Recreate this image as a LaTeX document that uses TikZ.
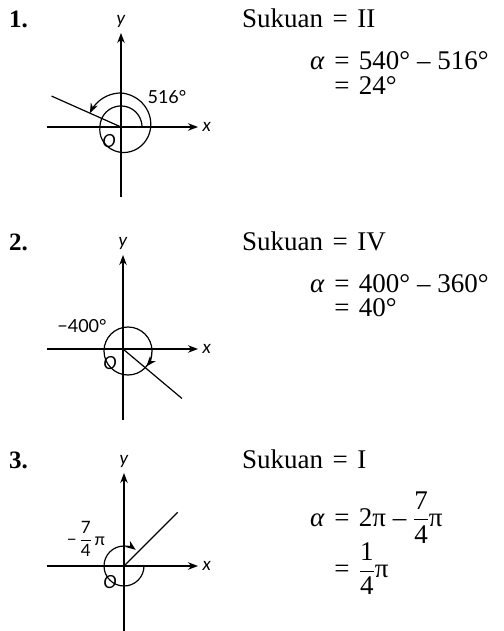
\documentclass[tikz,border=0pt]{standalone}
\usepackage{amsmath}
\usepackage{fontspec}
\setmainfont{Liberation Serif}
\newfontfamily\lblfont{Lato}
\usetikzlibrary{arrows.meta,calc}

\newcommand{\eqsp}{\hspace{0.35em}=\hspace{0.35em}}

\tikzset{
  axis/.style={line width=1.2pt, ->},
  arm/.style={line width=1.2pt},
  turn/.style={line width=1.2pt, ->},
  lbl/.style={font=\lblfont\fontsize{18}{20}\selectfont, inner sep=0pt},
  axlbl/.style={font=\lblfont\itshape\fontsize{18}{20}\selectfont, inner sep=0pt},
  num/.style={font=\bfseries\fontsize{25}{25}\selectfont, anchor=base west, inner sep=0pt},
  txt/.style={font=\fontsize{27}{22}\selectfont, anchor=base west, inner sep=0pt}
}

\begin{document}
\begin{tikzpicture}[x=1pt, y=1pt, >={Stealth[length=10pt,width=7.5pt]}]
\useasboundingbox (0,0) rectangle (503,-631);

% ---- 1. ----
\coordinate (O1) at (121,-127);
\coordinate (X1a) at ($(O1)+(-74,0)$);
\coordinate (X1b) at ($(O1)+(77,0)$);
\coordinate (Y1a) at ($(O1)+(0,-70)$);
\coordinate (Y1b) at ($(O1)+(0,94)$);
\coordinate (T1) at ($(O1)+(156:76)$);
\draw[axis] (X1a) -- (X1b) node[axlbl, anchor=west, xshift=4pt] (x1) {x};
\draw[axis] (Y1a) -- (Y1b) node[axlbl, anchor=south, yshift=5pt] (y1) {y};
\draw[arm] (O1) -- (T1);
\begin{scope}[shift={(O1)}]
  \draw[turn] plot[domain=0:516, samples=120, smooth] (\x:{21+13*max(0,min(1,(\x-180)/270))});
\end{scope}
\node[lbl] (ang1) at ($(O1)+(46,30)$) {516°};
\node[axlbl] (o1) at ($(O1)+(-12,-14)$) {O};

\node[num] (n1) at (9,-28) {1.};
\node[txt] (s1) at (242,-28) {Sukuan\eqsp II};
\node[txt] (a1) at (310,-70) {\begin{tabular}[t]{@{}r@{}l@{}}
  \textit{α} & \eqsp 540° – 516°\\
             & \eqsp 24°
\end{tabular}};

% ---- 2. ----
\coordinate (O2) at (123,-349);
\coordinate (X2a) at ($(O2)+(-76,0)$);
\coordinate (X2b) at ($(O2)+(75,0)$);
\coordinate (Y2a) at ($(O2)+(0,-71)$);
\coordinate (Y2b) at ($(O2)+(0,94)$);
\coordinate (T2) at ($(O2)+(-40:77)$);
\coordinate (C2) at ($(O2)+(5,-2)$);
\draw[axis] (X2a) -- (X2b) node[axlbl, anchor=west, xshift=4pt] (x2) {x};
\draw[axis] (Y2a) -- (Y2b) node[axlbl, anchor=south, yshift=5pt] (y2) {y};
\draw[arm] (O2) -- (T2);
\draw[turn] (C2) ++(24,0) arc[start angle=0, end angle=-400, radius=24];
\node[lbl] (ang2) at ($(O2)+(-41,23)$) {−400°};
\node[axlbl] (o2) at ($(O2)+(-13,-14)$) {O};

\node[num] (n2) at (9,-250) {2.};
\node[txt] (s2) at (242,-250) {Sukuan\eqsp IV};
\node[txt] (a2) at (310,-292) {\begin{tabular}[t]{@{}r@{}l@{}}
  \textit{α} & \eqsp 400° – 360°\\
             & \eqsp 40°
\end{tabular}};

% ---- 3. ----
\coordinate (O3) at (124,-566);
\coordinate (X3a) at ($(O3)+(-77,0)$);
\coordinate (X3b) at ($(O3)+(74,0)$);
\coordinate (Y3a) at ($(O3)+(0,-65)$);
\coordinate (Y3b) at ($(O3)+(0,93)$);
\coordinate (T3) at ($(O3)+(45:76)$);
\draw[axis] (X3a) -- (X3b) node[axlbl, anchor=west, xshift=4pt] (x3) {x};
\draw[axis] (Y3a) -- (Y3b) node[axlbl, anchor=south, yshift=5pt] (y3) {y};
\draw[arm] (O3) -- (T3);
\draw[turn] (O3) ++(20,0) arc[start angle=0, end angle=-306, radius=20];
\node[lbl, font=\lblfont\fontsize{17}{18}\selectfont] (ang3) at ($(O3)+(-38,27)$) {−\,$\dfrac{\text{7}}{\text{4}}$\,π};
\node[axlbl] (o3) at ($(O3)+(-14,-16)$) {O};

\node[num] (n3) at (9,-468) {3.};
\node[txt] (s3) at (242,-468) {Sukuan\eqsp I};
\node[txt] (a3) at (310,-526) {\begin{tabular}[t]{@{}r@{}l@{}}
  \textit{α} & \eqsp 2π – $\dfrac{\text{7}}{\text{4}}$π\\
             & \eqsp $\dfrac{\text{1}}{\text{4}}$π
\end{tabular}};
\end{tikzpicture}
\end{document}
